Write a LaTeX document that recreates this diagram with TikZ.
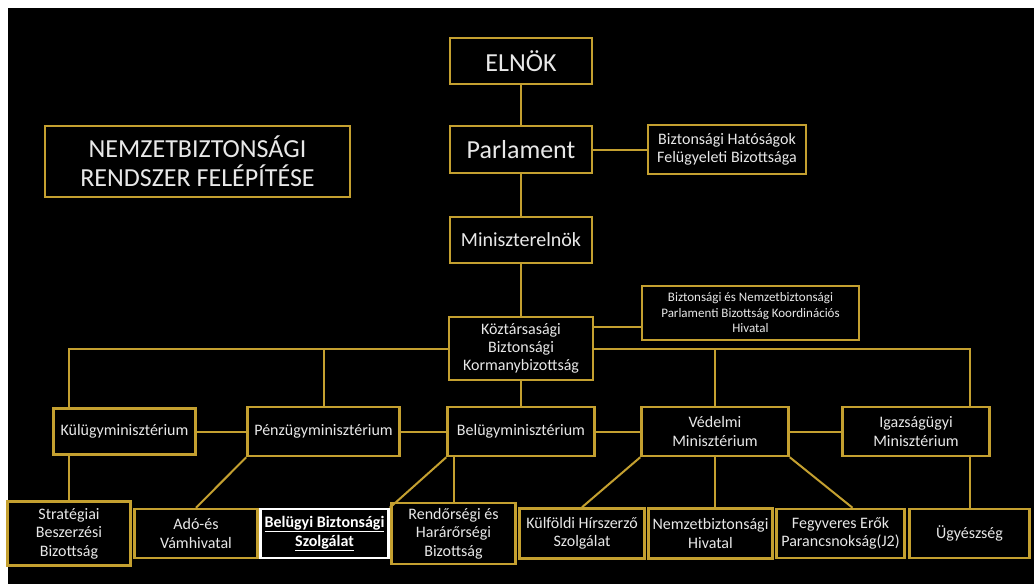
\documentclass[tikz,border=0pt]{standalone}
\usepackage{fontspec}
\setmainfont{Carlito}
\usetikzlibrary{positioning}
\definecolor{gold}{RGB}{196,160,48}
\definecolor{paper}{RGB}{232,232,232}

\begin{document}
\begin{tikzpicture}
    [
        x=1pt, y=-1pt, on grid, node distance=90pt and 200pt,
        gold_node/.style={rectangle, draw=gold, fill=black, line width=2.5pt, text=paper, align=center, inner sep=1pt},
        white_node/.style={rectangle, draw=white, fill=black, line width=2.5pt, text=white, align=center, inner sep=1pt},
        big_text/.style={font=\fontsize{26}{29}\selectfont},
        mid_text/.style={font=\fontsize{16}{18.3}\selectfont},
        low_text/.style={font=\fontsize{16}{18.5}\selectfont},
        link/.style={draw=gold, line width=2pt},
    ]
        \fill[white] (0,0) rectangle (1034,584);
        \fill[black] (8,8) rectangle (1034,584);
        \useasboundingbox (0,0) rectangle (1034,584);

        % top of the chart
        \node[gold_node, big_text, minimum width=305pt, minimum height=71pt] (title) at (197.5,161.5) {NEMZETBIZTONSÁGI\\RENDSZER FELÉPÍTÉSE};
        \node[gold_node, big_text, minimum width=142pt, minimum height=46pt] (elnok) at (521,61) {ELNÖK};
        \node[gold_node, big_text, minimum width=142pt, minimum height=47pt] (parlament) [below = 88.5pt of elnok] {Parlament};
        \node[gold_node, font=\fontsize{20}{24}\selectfont, minimum width=142pt, minimum height=46pt] (miniszterelnok) [below = 90.5pt of parlament] {Miniszterelnök};
        \node[gold_node, mid_text, minimum width=158pt, minimum height=49pt] (hatosagok) [right = 206pt of parlament] {Biztonsági Hatóságok\\Felügyeleti Bizottsága};
        \node[gold_node, mid_text, minimum width=144pt, minimum height=63pt] (kormany) [below = 108.5pt of miniszterelnok] {Köztársasági\\Biztonsági\\Kormanybizottság};
        \node[gold_node, font=\fontsize{13}{15.5}\selectfont, minimum width=217pt, minimum height=54pt] (koordinacio) [above right = 35.5pt and 229.5pt of kormany] {Biztonsági és Nemzetbiztonsági\\Parlamenti Bizottság Koordinációs\\Hivatal};

        % ministries
        \node[gold_node, mid_text, minimum width=147pt, minimum height=49pt] (belugy) [below = 83pt of kormany] {Belügyminisztérium};
        \node[gold_node, mid_text, minimum width=152pt, minimum height=49pt] (penzugy) [left = 197.5pt of belugy] {Pénzügyminisztérium};
        \node[gold_node, mid_text, minimum width=142pt, minimum height=46pt] (kulugy) [left = 199pt of penzugy] {Külügyminisztérium};
        \node[gold_node, mid_text, minimum width=147pt, minimum height=49pt] (vedelmi) [right = 194pt of belugy] {Védelmi\\Minisztérium};
        \node[gold_node, mid_text, minimum width=147pt, minimum height=49pt] (igazsag) [right = 201pt of vedelmi] {Igazságügyi\\Minisztérium};

        % offices
        \node[gold_node, low_text, minimum width=123pt, minimum height=64pt] (strategiai) [below left = 102pt and 55.5pt of kulugy] {Stratégiai\\Beszerzési\\Bizottság};
        \node[gold_node, low_text, minimum width=123pt, minimum height=49pt] (vam) [right = 127pt of strategiai] {Adó-és\\Vámhivatal};
        \node[white_node, low_text, minimum width=128pt, minimum height=49pt] (bbsz) [right = 128.5pt of vam] {\textbf{\underline{Belügyi Biztonsági}}\\\textbf{\underline{Szolgálat}}};
        \node[gold_node, low_text, minimum width=124pt, minimum height=61pt] (rendor) [right = 129pt of bbsz] {Rendőrségi és\\Harárőrségi\\Bizottság};
        \node[gold_node, low_text, minimum width=125pt, minimum height=50pt] (hirszerzo) [right = 128.5pt of rendor] {Külföldi Hírszerző\\Szolgálat};
        \node[gold_node, low_text, minimum width=124pt, minimum height=50pt] (nbh) [right = 128.5pt of hirszerzo] {Nemzetbiztonsági\\Hivatal};
        \node[gold_node, low_text, minimum width=128pt, minimum height=49pt] (parancsnoksag) [right = 130pt of nbh] {Fegyveres Erők\\Parancsnokság(J2)};
        \node[gold_node, low_text, minimum width=120pt, minimum height=49pt] (ugyeszseg) [right = 129pt of parancsnoksag] {Ügyészség};

        % connectors
        \draw[link] (elnok) -- (parlament) ;
        \draw[link] (parlament) -- (miniszterelnok) ;
        \draw[link] (parlament) -- (hatosagok) ;
        \draw[link] (miniszterelnok) -- (kormany) ;
        \draw[link] ([yshift=21.5pt]kormany.east) -- ([yshift=21.5pt]kormany.east -| koordinacio.west) ;
        \draw[link] (kormany.west) -| (strategiai.north |- kulugy.north) ;
        \draw[link] (penzugy.north) -- (penzugy.north |- kormany.west) ;
        \draw[link] (kormany.east) -| (ugyeszseg.north |- igazsag.north) ;
        \draw[link] (vedelmi.north) -- (vedelmi.north |- kormany.east) ;
        \draw[link] (kormany.south) -- (kormany.south |- belugy.north) ;
        \draw[link] (kulugy.east) -- (kulugy.east -| penzugy.west) ;
        \draw[link] (penzugy) -- (belugy) ;
        \draw[link] (belugy) -- (vedelmi) ;
        \draw[link] (vedelmi) -- (igazsag) ;
        \draw[link] (strategiai.north |- kulugy.south) -- (strategiai.north) ;
        \draw[link] (penzugy.south west) -- (vam.north) ;
        \draw[link] (belugy.south west) -- (bbsz.north east) ;
        \draw[link] (rendor.north |- belugy.south) -- (rendor.north) ;
        \draw[link] (vedelmi.south west) -- (hirszerzo.north) ;
        \draw[link] (vedelmi.south) -- (vedelmi.south |- nbh.north) ;
        \draw[link] (vedelmi.south east) -- ([xshift=12pt]parancsnoksag.north) ;
        \draw[link] (ugyeszseg.north |- igazsag.south) -- (ugyeszseg.north) ;
    \end{tikzpicture}
\end{document}
